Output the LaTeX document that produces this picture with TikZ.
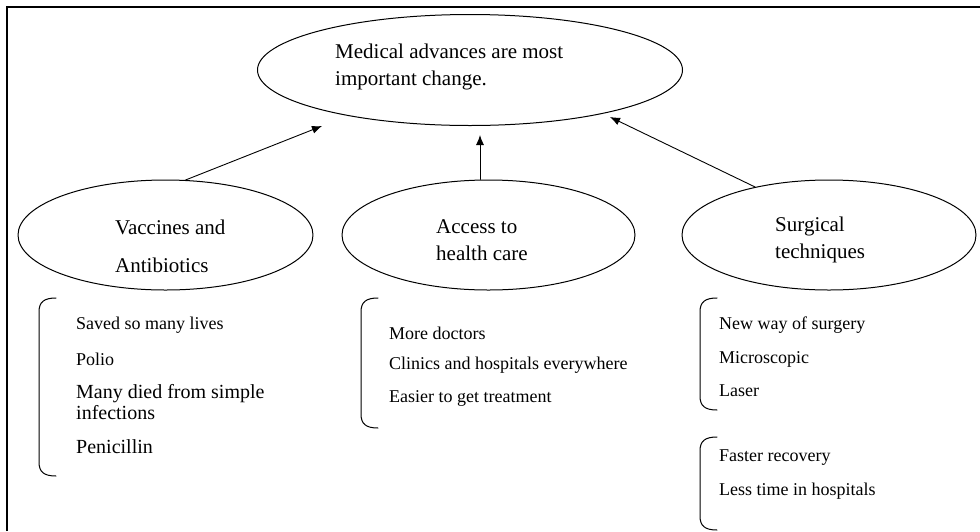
\documentclass[tikz,border=0pt]{standalone}
\usepackage{fontspec}
\setmainfont{Liberation Serif}
\usetikzlibrary{shapes.geometric,arrows.meta}
\begin{document}
\begin{tikzpicture}[x=1pt,y=-1pt,line join=round,line cap=round,>={Latex[length=10pt,width=8pt]},
  bubble/.style={draw,ellipse,line width=1pt,inner sep=0pt},
  big/.style={font=\fontsize{21}{27}\selectfont,align=left,anchor=west,inner sep=0pt},
  item/.style={font=\fontsize{18}{21}\selectfont,align=left,anchor=west,inner sep=0pt},
  bigitem/.style={item,font=\fontsize{20}{21}\selectfont}]
\useasboundingbox (0,0) rectangle (980,531);
\draw[line width=2.4pt,line cap=butt,line join=miter] (7,531) -- (7,7) -- (980,7);
% main idea and the three causes
\node[bubble,minimum width=425pt,minimum height=111pt] (med) at (470,70) {};
\node[bubble,minimum width=295pt,minimum height=110pt] (vac) at (165.5,235) {};
\node[bubble,minimum width=293pt,minimum height=110pt] (acc) at (488.5,235) {};
\node[bubble,minimum width=294pt,minimum height=110pt] (sur) at (829,235) {};
\node[big] (medtxt) at (335,66.5) {Medical advances are most\\important change.};
\node[big] (vactxt) at (115,246) {Vaccines and\\[11pt]Antibiotics};
\node[big] (acctxt) at (436,240) {Access to\\health care};
\node[big] (surtxt) at (775,240) {Surgical\\techniques};
% arrows up to the main idea
\coordinate (tipL) at (322,126);
\coordinate (tipM) at (480,135);
\coordinate (tipR) at (610,117);
\draw[->,line width=0.9pt] (vac.70) -- (tipL);
\draw[->,line width=0.9pt] (acc.north -| tipM) -- (tipM);
\draw[->,line width=0.9pt] (sur.147) -- (tipR);
% brackets
\foreach \bx/\by/\ey in {39/298/476, 361/298/428, 700/298/410, 700/437/530}{
  \draw[line width=1pt] (\bx+17,\by) .. controls (\bx+5,\by) and (\bx,\by+4) .. (\bx,\by+14)
    -- (\bx,\ey-14) .. controls (\bx,\ey-4) and (\bx+5,\ey) .. (\bx+17,\ey);}
% lists
\node[item] (v1) at (76,325) {Saved so many lives};
\node[item] (v2) at (76,359) {Polio};
\node[bigitem] (v3) at (76,402.5) {Many died from simple\\infections};
\node[bigitem] (v4) at (76,447) {Penicillin};
\node[item] (a1) at (389,333) {More doctors};
\node[item] (a2) at (389,365) {Clinics and hospitals everywhere};
\node[item] (a3) at (389,398) {Easier to get treatment};
\node[item] (s1) at (719,325) {New way of surgery};
\node[item] (s2) at (719,359) {Microscopic};
\node[item] (s3) at (719,391) {Laser};
\node[item] (s4) at (719,458) {Faster recovery};
\node[item] (s5) at (719,491) {Less time in  hospitals};
\end{tikzpicture}
\end{document}
